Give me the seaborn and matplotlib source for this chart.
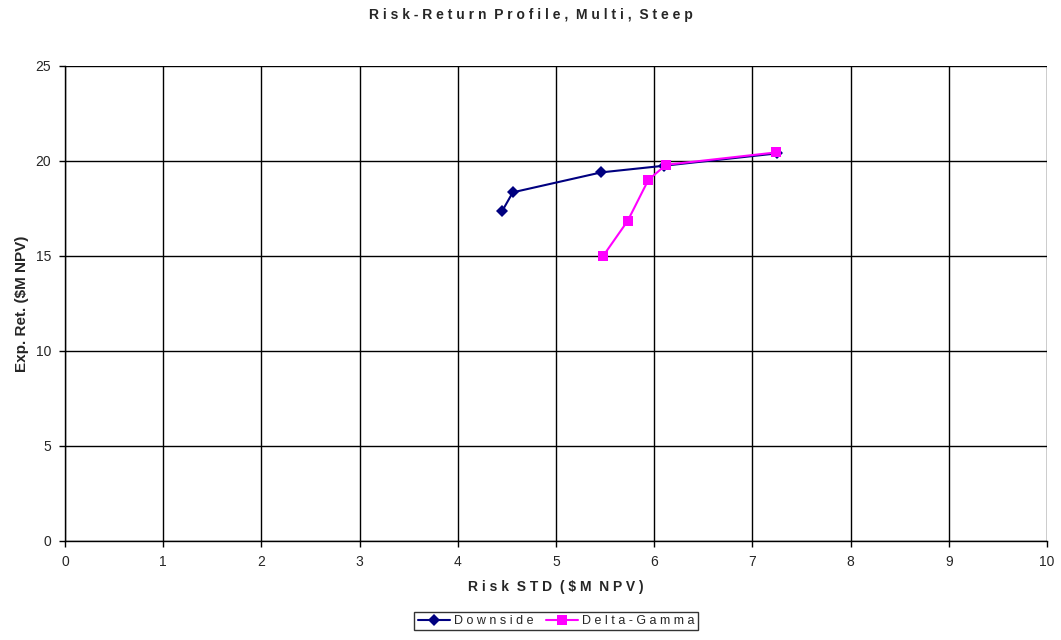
import pandas as pd
import matplotlib.pyplot as plt
import seaborn as sns

down_x = [4.45, 4.56, 5.46, 6.10, 7.25]
down_y = [17.35, 18.35, 19.40, 19.75, 20.40]
dg_x = [5.48, 5.73, 5.94, 6.12, 7.24]
dg_y = [15.0, 16.85, 19.0, 19.8, 20.45]

df = pd.concat([
    pd.DataFrame({"x": down_x, "y": down_y, "serie": "Downside"}),
    pd.DataFrame({"x": dg_x, "y": dg_y, "serie": "Delta-Gamma"}),
])

sns.set_style("white")
plt.rcParams["font.family"] = ["Liberation Sans", "DejaVu Sans"]

fig = plt.figure(figsize=(10.61, 6.40), dpi=100)
ax = fig.add_axes([0.0613, 0.1547, 0.9255, 0.7422])

sns.lineplot(data=df, x="x", y="y", hue="serie", style="serie",
             palette={"Downside": "#000080", "Delta-Gamma": "#FF00FF"},
             markers={"Downside": "D", "Delta-Gamma": "s"},
             dashes=False, sort=False, estimator=None, ax=ax,
             markersize=7, markeredgewidth=0, linewidth=1.5)
# diamond a bit smaller
for l in ax.lines:
    if l.get_marker() == "D":
        l.set_markersize(6)

ax.set_xlim(0, 10)
ax.set_ylim(0, 25)
ax.set_xticks(range(0, 11))
ax.set_yticks(range(0, 26, 5))
ax.grid(True, color="black", linewidth=1)
for s in ["top", "right"]:
    ax.spines[s].set_visible(False)
for s in ["left", "bottom"]:
    ax.spines[s].set_color("black")
    ax.spines[s].set_linewidth(1)
ax.tick_params(axis="both", direction="out", length=4, width=1, color="black",
               labelsize=10, bottom=True, left=True, pad=6)

ax.set_xlabel("R i s k  S T D  ( $ M  N P V )", fontsize=10, fontweight="bold", labelpad=8)
ax.set_ylabel("Exp. Ret. ($M NPV)", fontsize=11, fontweight="bold", labelpad=5)
fig.suptitle("R i s k - R e t u r n  P r o f i l e ,  M u l t i ,  S t e e p",
             fontsize=10, fontweight="bold", y=0.988)

handles, labels = ax.get_legend_handles_labels()
ax.legend(handles, ["D o w n s i d e", "D e l t a - G a m m a"], loc="upper center",
          bbox_to_anchor=(0.5, -0.15), ncol=2, frameon=True, fancybox=False,
          edgecolor="black", fontsize=9, handlelength=2.6, handletextpad=0.3,
          borderpad=0.25, columnspacing=1.0, borderaxespad=0)

fig.savefig("out.png", dpi=100)
